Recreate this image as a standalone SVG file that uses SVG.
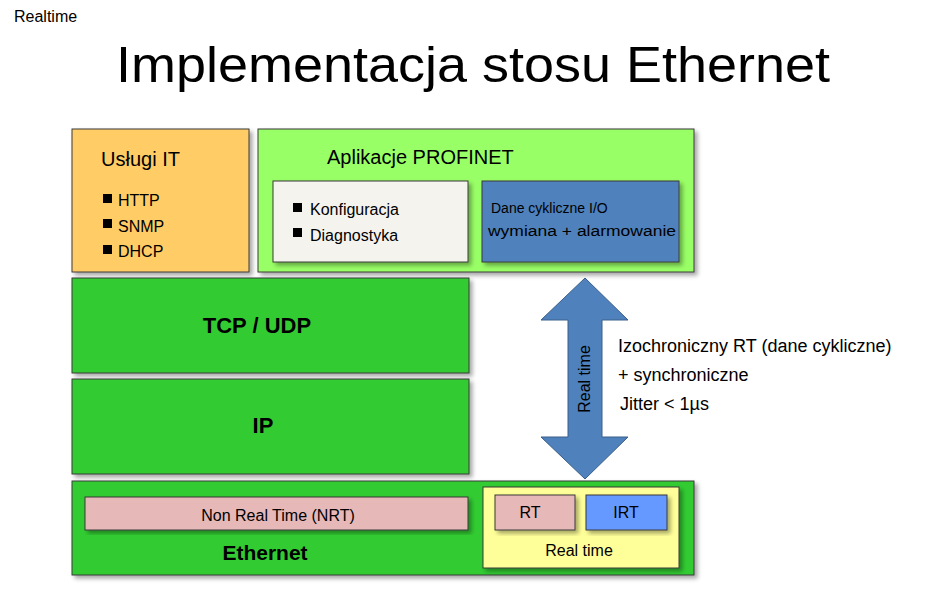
<svg xmlns="http://www.w3.org/2000/svg" width="946" height="605" viewBox="0 0 946 605">
<defs>
<style>
text{font-family:"Liberation Sans",Arial,sans-serif;fill:#000}
.b{stroke:#3a3a3a;stroke-width:1}
.g{fill:#33cc33}
.big{font-size:22px;font-weight:bold;text-anchor:middle}
.s{font-size:16px}
</style>
<filter id="sh" x="-5%" y="-5%" width="115%" height="120%"><feDropShadow dx="3" dy="3" stdDeviation="2" flood-color="#000" flood-opacity="0.35"/></filter>
</defs>
<rect width="946" height="605" fill="#fff"/>
<text x="14" y="22" font-size="16">Realtime</text>
<text x="473" y="82" font-size="50" text-anchor="middle" textLength="714" lengthAdjust="spacingAndGlyphs">Implementacja stosu Ethernet</text>
<g id="uslugi">
<rect x="72" y="129" width="177" height="143" fill="#ffcc66" class="b" filter="url(#sh)"/>
<text x="101" y="166" font-size="20">Usługi IT</text>
<rect x="103" y="194" width="9" height="9" fill="#000"/><text x="118" y="206" class="s">HTTP</text>
<rect x="103" y="219" width="9" height="9" fill="#000"/><text x="118" y="232" class="s">SNMP</text>
<rect x="103" y="245" width="9" height="9" fill="#000"/><text x="118" y="257" class="s">DHCP</text>
</g>
<g id="profinet">
<rect x="258" y="129" width="436" height="143" fill="#99ff66" class="b" filter="url(#sh)"/>
<text x="327" y="164" font-size="20">Aplikacje PROFINET</text>
</g>
<g id="konfig">
<rect x="273" y="181" width="195" height="81" fill="#f5f3ee" class="b" filter="url(#sh)"/>
<rect x="293" y="203" width="9" height="9" fill="#000"/><text x="310" y="215" class="s">Konfiguracja</text>
<rect x="293" y="228" width="9" height="9" fill="#000"/><text x="310" y="241" class="s">Diagnostyka</text>
</g>
<g id="dane">
<rect x="482" y="181" width="197" height="81" fill="#4f81bd" class="b" filter="url(#sh)"/>
<text x="491" y="213" font-size="14">Dane cykliczne I/O</text>
<text x="488" y="236" font-size="14" textLength="188" lengthAdjust="spacingAndGlyphs">wymiana + alarmowanie</text>
</g>
<g id="tcp">
<rect x="72" y="278" width="397" height="95" class="g b" filter="url(#sh)"/>
<text x="257" y="333" class="big">TCP / UDP</text>
</g>
<g id="ip">
<rect x="72" y="379" width="397" height="95" class="g b" filter="url(#sh)"/>
<text x="263" y="433" class="big">IP</text>
</g>
<g id="ethernet">
<rect x="72" y="481" width="622" height="94" class="g b" filter="url(#sh)"/>
<text x="265" y="560" class="big" style="font-size:21px">Ethernet</text>
</g>
<g id="nrt">
<rect x="85" y="497" width="383" height="33" fill="#e6b8b7" class="b" filter="url(#sh)"/>
<text x="278" y="521" class="s" text-anchor="middle">Non Real Time (NRT)</text>
</g>
<g id="realtime">
<rect x="483" y="487" width="196" height="81" fill="#ffff99" class="b" filter="url(#sh)"/>
<text x="579" y="556" class="s" text-anchor="middle">Real time</text>
</g>
<g id="rt">
<rect x="495" y="495" width="80" height="35" fill="#e6b8b7" class="b" filter="url(#sh)"/>
<text x="530" y="518" class="s" text-anchor="middle">RT</text>
</g>
<g id="irt">
<rect x="586" y="495" width="81" height="35" fill="#6699ff" class="b" filter="url(#sh)"/>
<text x="626" y="518" class="s" text-anchor="middle">IRT</text>
</g>
<g id="connectors">
<path d="M585 278 L628 320 L602 320 L602 437 L628 437 L585 479 L541 437 L568 437 L568 320 L541 320 Z" fill="#4f81bd" stroke="#3a5f8a" stroke-width="1"/>
<text transform="translate(590 379) rotate(-90)" font-size="16" text-anchor="middle" fill="#000">Real time</text>
</g>
<g id="opis">
<text x="618" y="352" font-size="18">Izochroniczny RT (dane cykliczne)</text>
<text x="618" y="381" font-size="18">+ synchroniczne</text>
<text x="620" y="410" font-size="18">Jitter &lt; 1µs</text>
</g>
</svg>
